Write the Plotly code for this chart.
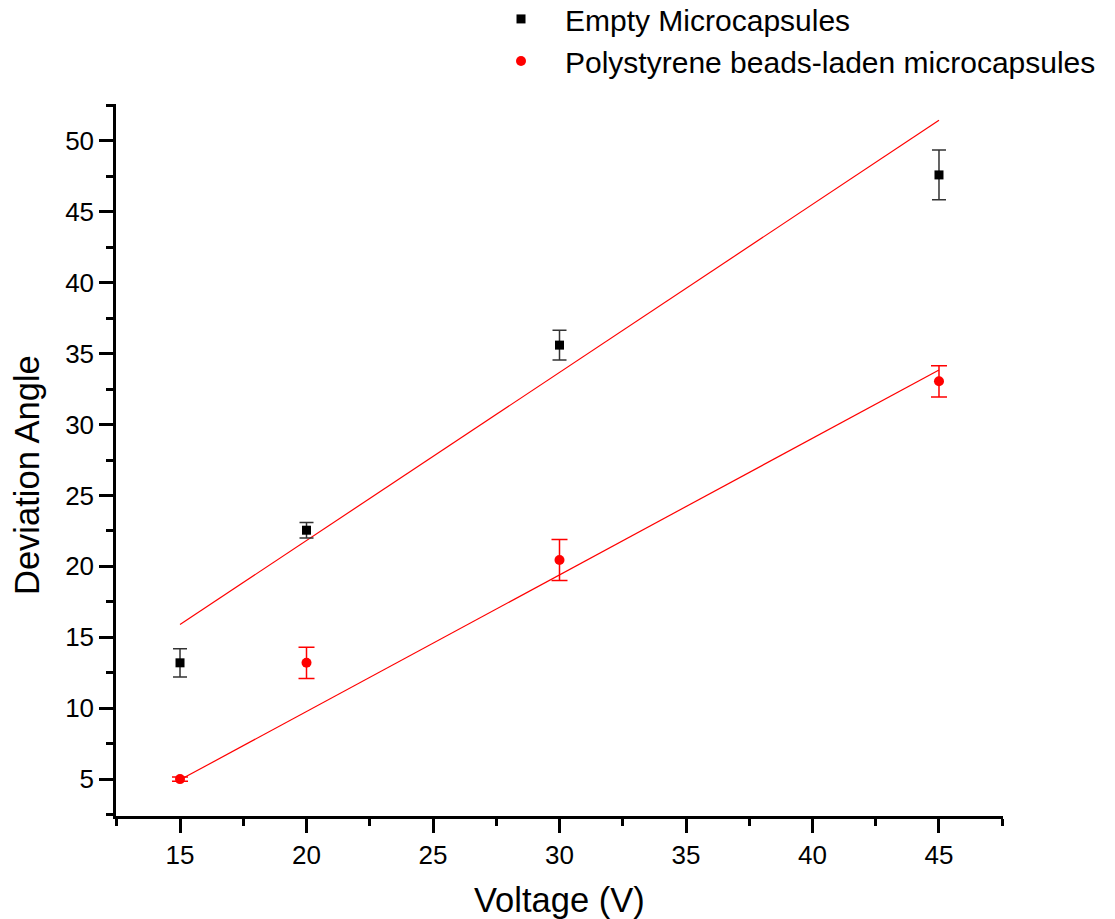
import plotly.graph_objects as go

# ---- data ----
voltage = [15, 20, 30, 45]
empty_angle = [13.2, 22.55, 35.6, 47.6]
empty_err = [1.0, 0.55, 1.05, 1.75]
beads_angle = [5.0, 13.2, 20.45, 33.05]
beads_err = [0.15, 1.1, 1.45, 1.1]

fit_voltage = [15, 45]
empty_fit = [15.9, 51.45]
beads_fit = [4.95, 33.85]

series_names = ["Empty Microcapsules", "Polystyrene beads-laden microcapsules"]
x_ticks = [15, 20, 25, 30, 35, 40, 45]
y_ticks = [5, 10, 15, 20, 25, 30, 35, 40, 45, 50]

FONT = "Liberation Sans, Arial, sans-serif"

fig = go.Figure()

fig.add_trace(go.Scatter(
    x=fit_voltage, y=empty_fit, mode="lines",
    line=dict(color="#ff0000", width=1.2), showlegend=False, hoverinfo="skip"))
fig.add_trace(go.Scatter(
    x=fit_voltage, y=beads_fit, mode="lines",
    line=dict(color="#ff0000", width=1.2), showlegend=False, hoverinfo="skip"))

fig.add_trace(go.Scatter(
    x=voltage, y=empty_angle, mode="markers", name=series_names[0],
    marker=dict(symbol="square", size=9, color="#000000"),
    error_y=dict(type="data", array=empty_err, visible=True,
                 color="#333333", thickness=1.5, width=7)))
fig.add_trace(go.Scatter(
    x=voltage, y=beads_angle, mode="markers", name=series_names[1],
    marker=dict(symbol="circle", size=10, color="#ff0000"),
    error_y=dict(type="data", array=beads_err, visible=True,
                 color="#ff0000", thickness=1.5, width=8)))

axis_common = dict(
    showline=True, linecolor="#000000", linewidth=2.5, mirror=False,
    showgrid=False, zeroline=False,
    ticks="outside", ticklen=14, tickwidth=2.5, tickcolor="#000000",
    tickfont=dict(family=FONT, size=26, color="#000000"),
)

fig.update_xaxes(
    range=[12.47, 47.53], tickvals=x_ticks,
    minor=dict(dtick=2.5, tick0=0, ticks="outside", ticklen=7, tickwidth=2.5, tickcolor="#000000"),
    **axis_common)
fig.update_yaxes(
    range=[2.4, 52.6], tickvals=y_ticks,
    minor=dict(dtick=2.5, tick0=0, ticks="outside", ticklen=7, tickwidth=2.5, tickcolor="#000000"),
    **axis_common)

fig.update_layout(
    width=1115, height=919,
    margin=dict(l=116, r=112, t=104, b=103, autoexpand=False),
    plot_bgcolor="#ffffff", paper_bgcolor="#ffffff",
    font=dict(family=FONT, color="#000000"),
    showlegend=True,
    legend=dict(
        x=0.407, y=1.156, xanchor="left", yanchor="top",
        font=dict(family=FONT, size=30, color="#000000"),
        bgcolor="rgba(0,0,0,0)", itemwidth=78, tracegroupgap=0,
    ),
    annotations=[
        dict(text="Voltage (V)", xref="paper", yref="paper", x=0.5, y=-0.118,
             xanchor="center", yanchor="middle", showarrow=False,
             font=dict(family=FONT, size=34.5, color="#000000")),
        dict(text="Deviation Angle", xref="paper", yref="paper", x=-0.1003, y=0.479,
             xanchor="center", yanchor="middle", showarrow=False, textangle=-90,
             font=dict(family=FONT, size=34.5, color="#000000")),
    ],
)

fig.write_html("out.html")
